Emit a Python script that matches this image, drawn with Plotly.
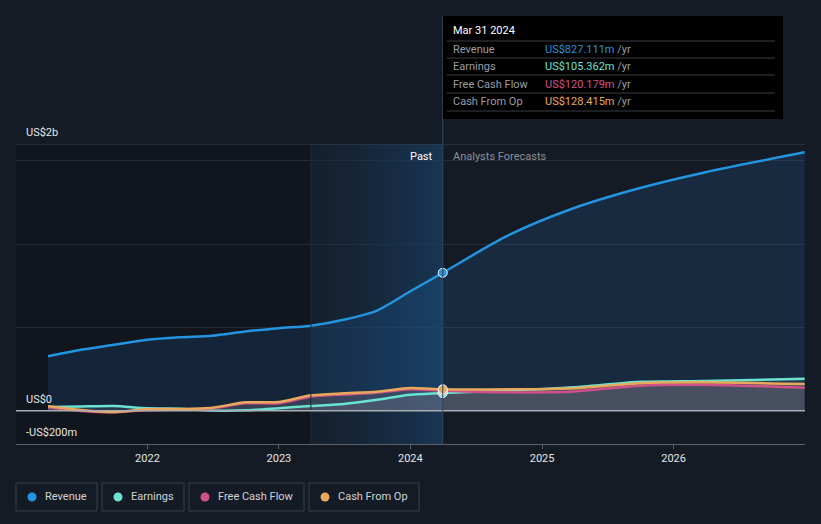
import plotly.graph_objects as go

# ---- data (US$ millions) ----
past_dates = ["2021-03-31", "2021-06-30", "2021-09-30", "2021-12-31", "2022-03-31",
              "2022-06-30", "2022-09-30", "2022-12-31", "2023-03-31", "2023-06-30",
              "2023-09-30", "2023-12-31", "2024-03-31"]
rev_past = [326, 365, 395, 425, 440, 450, 475, 495, 510, 545, 600, 715, 827.111]
earn_past = [22, 25, 28, 14, 12, 1, 2, 15, 28, 40, 65, 95, 105.362]
fcf_past = [20, -2, -10, 3, 5, 14, 44, 45, 84, 97, 108, 128, 120.179]
cfo_past = [26, 4, -8, 8, 10, 18, 50, 52, 92, 104, 114, 136, 128.415]

fc_dates = ["2024-03-31", "2024-09-30", "2025-03-31", "2025-09-30", "2026-03-31", "2026-12-31"]
rev_fc = [827.111, 1053, 1216, 1336, 1431, 1550]
earn_fc = [105.362, 120, 140, 173, 178, 192]
fcf_fc = [120.179, 110, 115, 150, 155, 138]
cfo_fc = [128.415, 128, 135, 165, 170, 160]

x_ticks = ["2022-01-01", "2023-01-01", "2024-01-01", "2025-01-01", "2026-01-01"]
x_tick_text = ["2022", "2023", "2024", "2025", "2026"]
y_labels = ["US$2b", "US$0", "-US$200m"]

tip_date = "Mar 31 2024"
tip_names = ["Revenue", "Earnings", "Free Cash Flow", "Cash From Op"]
tip_values = ["US$827.111m", "US$105.362m", "US$120.179m", "US$128.415m"]
colors = ["#2394df", "#6be3d1", "#d2508a", "#e8a95b"]

W, H = 821, 524
L, R, T, B = 16, 16, 144, 80
PW, PH = W - L - R, H - T - B


def px(x):
    return (x - L) / PW


def py(y):
    return (H - B - y) / PH


fig = go.Figure()

# Past region background (darker) and highlighted last year
fig.add_shape(type="rect", xref="x", yref="paper", x0="2021-01-01", x1="2023-03-31",
              y0=0, y1=1, fillcolor="#11151d", line_width=0, layer="below")
fig.add_trace(go.Scatter(
    x=["2023-03-31", "2024-03-31", "2024-03-31", "2023-03-31", "2023-03-31"],
    y=[-200, -200, 1600, 1600, -200], mode="lines", line=dict(width=0),
    fill="toself", hoverinfo="skip", showlegend=False,
    fillgradient=dict(type="horizontal",
                      colorscale=[[0, "rgba(20,40,60,0.35)"], [1, "rgba(25,65,105,0.7)"]])))
fig.add_shape(type="line", xref="x", yref="paper", x0="2023-03-31", x1="2023-03-31",
              y0=0, y1=1, line=dict(color="#1f2d3b", width=1))

all_dates = past_dates + fc_dates[1:]


def full(p, f):
    return p + f[1:]


# Revenue
fig.add_trace(go.Scatter(x=all_dates, y=full(rev_past, rev_fc), mode="lines",
                         line=dict(color=colors[0], width=2.5, shape="spline", smoothing=0.8),
                         fill="tozeroy", fillcolor="rgba(35,120,200,0.17)",
                         showlegend=False, hoverinfo="skip"))
# CFO fill area (gray)
fig.add_trace(go.Scatter(x=all_dates, y=full(cfo_past, cfo_fc), mode="lines",
                         line=dict(width=0, shape="spline", smoothing=0.6),
                         fill="tozeroy", fillcolor="rgba(120,110,125,0.35)",
                         showlegend=False, hoverinfo="skip"))
fig.add_trace(go.Scatter(x=all_dates, y=full(earn_past, earn_fc), mode="lines",
                         line=dict(width=0, shape="spline", smoothing=0.6),
                         fill="tozeroy", fillcolor="rgba(140,145,150,0.18)",
                         showlegend=False, hoverinfo="skip"))

for vals_p, vals_f, c in [(earn_past, earn_fc, colors[1]), (fcf_past, fcf_fc, colors[2]),
                          (cfo_past, cfo_fc, colors[3])]:
    fig.add_trace(go.Scatter(x=all_dates, y=full(vals_p, vals_f), mode="lines",
                             line=dict(color=c, width=2.5, shape="spline", smoothing=0.6),
                             showlegend=False, hoverinfo="skip"))

# current markers
for v, c in [(earn_past[-1], colors[1]), (fcf_past[-1], colors[2]),
             (cfo_past[-1], colors[3]), (rev_past[-1], colors[0])]:
    fig.add_trace(go.Scatter(x=[past_dates[-1]], y=[v], mode="markers",
                             marker=dict(color=c, size=9, line=dict(color="white", width=1)),
                             showlegend=False, hoverinfo="skip"))

# zero line and top line
fig.add_shape(type="line", xref="paper", yref="y", x0=0, x1=1, y0=0, y1=0,
              line=dict(color="#a9adb3", width=1.5))
fig.add_shape(type="line", xref="paper", yref="y", x0=0, x1=1, y0=1600, y1=1600,
              line=dict(color="#3b414b", width=1))

# vertical line at current date (extends to tooltip)
fig.add_shape(type="line", xref="x", yref="paper", x0="2024-03-31", x1="2024-03-31",
              y0=0, y1=py(16), line=dict(color="#34475a", width=1))

# tooltip box
fig.add_shape(type="rect", xref="paper", yref="paper", x0=px(443), x1=px(783),
              y0=py(119), y1=py(16), fillcolor="#000000", line_width=0)
fig.add_annotation(x=px(451), y=py(31), xref="paper", yref="paper", text=tip_date,
                   showarrow=False, xanchor="left", yanchor="middle",
                   font=dict(color="#ffffff", size=11))
for i, yy in enumerate([41, 58, 75, 93, 111]):
    fig.add_shape(type="line", xref="paper", yref="paper", x0=px(447), x1=px(775),
                  y0=py(yy), y1=py(yy), line=dict(color="#3a3d42", width=1))
for i, (n, v) in enumerate(zip(tip_names, tip_values)):
    yy = [49.5, 66.5, 84, 101.5][i]
    fig.add_annotation(x=px(451), y=py(yy), xref="paper", yref="paper", text=n,
                       showarrow=False, xanchor="left", yanchor="middle",
                       font=dict(color="#9a9ea5", size=11))
    fig.add_annotation(x=px(543), y=py(yy), xref="paper", yref="paper",
                       text=f"<span style='color:{colors[i]}'>{v}</span> /yr",
                       showarrow=False, xanchor="left", yanchor="middle",
                       font=dict(color="#9a9ea5", size=11))

# y labels
for t, yy in zip(y_labels, [132, 399, 432]):
    fig.add_annotation(x=px(24), y=py(yy), xref="paper", yref="paper", text=t,
                       showarrow=False, xanchor="left", yanchor="middle",
                       font=dict(color="#e6e6e6", size=11))

# Past / Analysts Forecasts
fig.add_annotation(x=px(435), y=py(156), xref="paper", yref="paper", text="Past",
                   showarrow=False, xanchor="right", yanchor="middle",
                   font=dict(color="#ffffff", size=11))
fig.add_annotation(x=px(451), y=py(156), xref="paper", yref="paper", text="Analysts Forecasts",
                   showarrow=False, xanchor="left", yanchor="middle",
                   font=dict(color="#8a8f98", size=11))

# legend boxes
boxes = [(16, 97), (102, 184), (189, 304), (309, 419)]
for (x0, x1), n, c in zip(boxes, tip_names, colors):
    fig.add_shape(type="rect", xref="paper", yref="paper", x0=px(x0), x1=px(x1),
                  y0=py(511), y1=py(483), line=dict(color="#3a3f48", width=1),
                  fillcolor="rgba(0,0,0,0)")
    fig.add_shape(type="circle", xref="paper", yref="paper",
                  x0=px(x0 + 11.5), x1=px(x0 + 20.5), y0=py(501.5), y1=py(492.5),
                  line_width=0, fillcolor=c)
    fig.add_annotation(x=px(x0 + 27), y=py(496.5), xref="paper", yref="paper",
                       text=n, showarrow=False, xanchor="left", yanchor="middle",
                       font=dict(color="#d0d3d8", size=11))

fig.update_layout(
    width=W, height=H,
    margin=dict(l=L, r=R, t=T, b=B),
    paper_bgcolor="#151b25", plot_bgcolor="#151b25",
    font=dict(family="Roboto", color="#e6e6e6", size=11),
    showlegend=False,
    xaxis=dict(type="date", range=["2021-01-01", "2027-01-01"], tickvals=x_ticks,
               ticktext=x_tick_text, showgrid=False, showline=True, linecolor="#5b6068",
               linewidth=1, ticks="outside", ticklen=4, tickcolor="#5b6068",
               tickfont=dict(color="#e6e6e6", size=11), zeroline=False, fixedrange=True),
    yaxis=dict(range=[-200, 1600], tickvals=[500, 1000, 1500], showticklabels=False,
               showgrid=True, gridcolor="#262c36", gridwidth=1, zeroline=False,
               fixedrange=True),
)

fig.write_html("out.html", config={"displayModeBar": False},
               post_script="document.body.style.margin='0px';document.body.style.overflow='hidden';")
